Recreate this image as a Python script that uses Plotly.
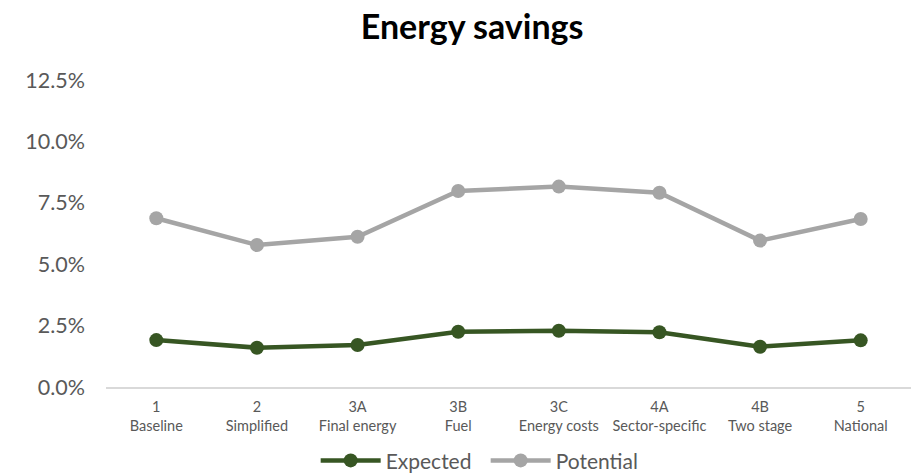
import plotly.graph_objects as go

categories = ["1<br>Baseline", "2<br>Simplified", "3A<br>Final energy", "3B<br>Fuel",
              "3C<br>Energy costs", "4A<br>Sector-specific", "4B<br>Two stage", "5<br>National"]
expected = [0.0191, 0.0160, 0.0171, 0.0225, 0.0229, 0.0223, 0.0164, 0.0190]
potential = [0.0687, 0.0578, 0.0612, 0.0798, 0.0816, 0.0791, 0.0596, 0.0684]
y_ticks = [0, 0.025, 0.05, 0.075, 0.10, 0.125]

FONT = "Lato, Open Sans, sans-serif"

fig = go.Figure()
fig.add_trace(go.Scatter(x=categories, y=expected, name="Expected", mode="lines+markers",
                         line=dict(color="#375623", width=4.5),
                         marker=dict(color="#375623", size=14)))
fig.add_trace(go.Scatter(x=categories, y=potential, name="Potential", mode="lines+markers",
                         line=dict(color="#A5A5A5", width=4.5),
                         marker=dict(color="#A5A5A5", size=14)))

fig.update_layout(
    width=915, height=475,
    margin=dict(l=106, r=4, t=80, b=88),
    paper_bgcolor="white", plot_bgcolor="white",
    font=dict(family=FONT, color="#595959"),
    title=dict(text="<b>Energy savings</b>", x=0.516, xanchor="center",
               y=0.943, yanchor="middle", font=dict(size=34, color="black", family=FONT)),
    showlegend=True,
    legend=dict(orientation="h", xref="container", x=0.345, xanchor="left",
                yref="container", y=0.03, yanchor="middle",
                itemwidth=60, entrywidth=95,
                font=dict(size=21, color="#595959")),
    xaxis=dict(showgrid=False, showline=True, linecolor="#D9D9D9", linewidth=1.5,
               ticks="", tickfont=dict(size=14.5, color="#595959"), range=[-0.5, 7.5],
               zeroline=False, ticklabelstandoff=6),
    yaxis=dict(range=[0, 0.125], tickvals=y_ticks, tickformat=".1%", showgrid=False,
               zeroline=False, showline=False, ticks="", ticklabelstandoff=20,
               tickfont=dict(size=21.5, color="#595959")),
)

fig.write_html("out.html")
